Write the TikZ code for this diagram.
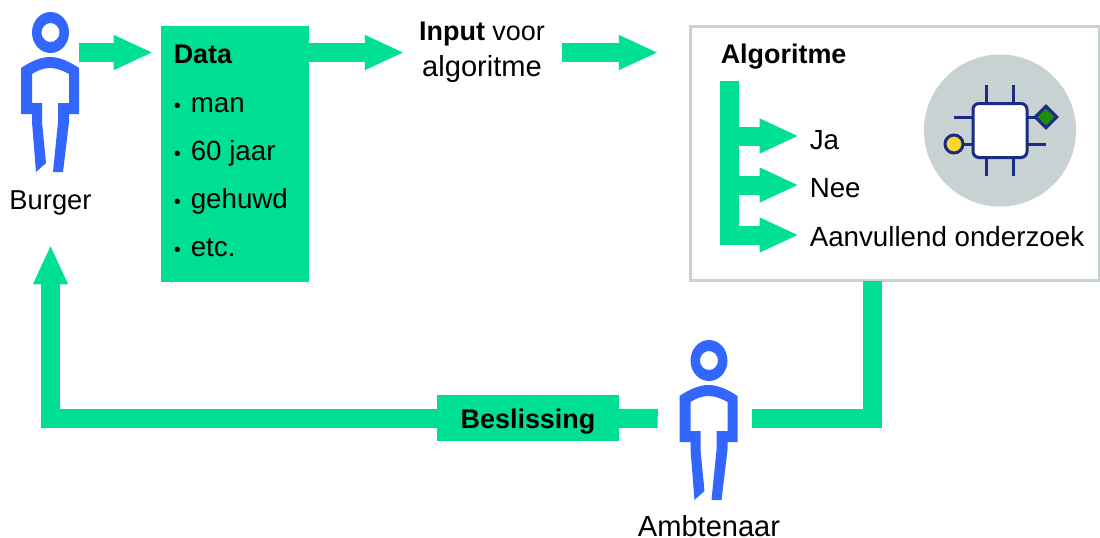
\documentclass[tikz,border=0pt]{standalone}
\usepackage{fontspec}
\setmainfont{Liberation Sans}
\usetikzlibrary{arrows.meta,backgrounds,positioning,shapes.geometric}
\definecolor{flowgreen}{HTML}{00E092}
\definecolor{personblue}{HTML}{3366FF}
\definecolor{panelgrey}{HTML}{C9D2D2}
\definecolor{chipnavy}{HTML}{1A2B84}
\definecolor{pinyellow}{HTML}{F9D62E}
\definecolor{pingreen}{HTML}{1F8F0A}
\newcommand{\regsize}{\fontsize{20.8pt}{27pt}\selectfont}
\newcommand{\bigsize}{\fontsize{21.8pt}{27pt}\selectfont}
\newcommand{\itembul}{{\fontsize{15pt}{15pt}\selectfont •}\hspace{7.5pt}}
\begin{document}
\begin{tikzpicture}
	[x=0.75pt, y=-0.75pt, inner sep=0pt, font=\fontsize{20.2pt}{27pt}\selectfont,
	flowline/.style	= {draw=flowgreen, line width=14.25pt},
	flow/.style		= {flowline, -{Triangle[length=28.5pt,width=26.5pt,line width=0pt]}},
	databox/.style	= {rectangle, fill=flowgreen, minimum width=111pt, minimum height=192pt},
	algobox/.style	= {rectangle, draw=panelgrey, line width=2.25pt, fill=white, minimum width=307pt, minimum height=191pt},
	figbox/.style	= {rectangle, draw=none, minimum width=43.5pt, minimum height=120pt},
	decisionbox/.style = {rectangle, fill=flowgreen, minimum width=136.5pt, minimum height=34.5pt, text height=15pt, text depth=0pt},
	lbl/.style		= {anchor=west, text height=19.5pt, text depth=0pt},
	lblmid/.style	= {text height=19.5pt, text depth=0pt},
	chippin/.style	= {draw=chipnavy, line width=2.25pt},
	person/.pic		= {
		\fill [personblue, even odd rule] (50.5,32.5) ellipse (18.5 and 20.5) (50.5,32.5) ellipse (9 and 9.5);
		\fill [personblue, even odd rule] (21,68) .. controls (30,62) and (40,57) .. (50,57) .. controls (60,57) and (70,62) .. (79,68)
			-- (79,114) -- (69,114) -- (69,122) -- (63,172) -- (53,172) -- (58,122) -- (58,103) -- (69,103) -- (69,74)
			.. controls (62,70) and (56,68) .. (50,68) .. controls (44,68) and (38,70) .. (32,74)
			-- (32,103) -- (42,103) -- (42,122) -- (46,163) -- (36,172) -- (32,122) -- (32,114) -- (21,114) -- cycle;
	}]

	\useasboundingbox (0,0) rectangle (1100,537);

	% people
	\node at (50,92)		[figbox]	(burgerfig)	{};
	\node at (709,418.5)	[figbox]	(ambtfig)	{};
	\pic at (0,0)		{person};
	\pic at (658.5,328)	{person};
	\node at (50.5,196)	[lblmid, font=\fontsize{20.5pt}{27pt}\selectfont]	(burger)	{Burger};
	\node at (709,523)	[lblmid, font=\bigsize]	(ambt)		{Ambtenaar};

	% data
	\node at (235,154)	[databox]	(data)	{};
	\node at (173.5,50)	[lbl]		(datatitle)	{\textbf{Data}};
	\node at (173.5,99)	[lbl, font=\regsize]	(item1)	{\itembul man};
	\node at (173.5,147)	[lbl, font=\regsize]	(item2)	{\itembul 60 jaar};
	\node at (173.5,195)	[lbl, font=\regsize]	(item3)	{\itembul gehuwd};
	\node at (173.5,243)	[lbl, font=\regsize]	(item4)	{\itembul etc.};

	\node at (482,52.5)	[align=center]	(input)	{\textbf{Input} voor\\{\bigsize algoritme}};

	% algorithm panel
	\node at (895,153.5)	[algobox]	(algo)	{};
	\node at (720.5,50)	[lbl]		(algotitle)	{\textbf{Algoritme}};
	\node at (809.5,136)	[lbl, font=\regsize]	(ja)	{Ja};
	\node at (809.5,184)	[lbl, font=\regsize]	(nee)	{Nee};
	\node at (809.5,233)	[lbl, font=\regsize]	(extra)	{Aanvullend onderzoek};

	\coordinate (spinetop) at (729.5,81);
	\coordinate (spinebot) at (729.5,245);
	\coordinate (algoout) at (872.5,281);
	\draw [flowline] (spinetop) -- (spinebot);
	\draw [flow, shorten >=9pt] (spinetop |- ja.west) -- (ja.west);
	\draw [flow, shorten >=9pt] (spinetop |- 0,185) -- (ja.west |- 0,185);
	\draw [flow, shorten >=9pt] (spinetop |- 0,235) -- (ja.west |- 0,235);

	% chip
	\node at (1000,130.5) [circle, fill=panelgrey, minimum size=114pt] (chipdisc) {};
	\draw [chippin] (986,85) -- (986,176);
	\draw [chippin] (1013,85) -- (1013,176);
	\draw [chippin] (954,117) -- (1046,117);
	\draw [chippin] (954,144) -- (1046,144);
	\node at (1000,130.5) [chippin, fill=white, rectangle, rounded corners=4.5pt, minimum size=40.5pt] (chip) {};
	\node at (954,144) [chippin, fill=pinyellow, circle, minimum size=13.5pt] (pin1) {};
	\node at (1046,117) [chippin, fill=pingreen, diamond, minimum size=17pt] (pin2) {};

	% flows
	\draw [flow, shorten >=6.75pt] (burgerfig.east |- input.west) -- (data.west |- input.west);
	\draw [flow] (data.east |- input.west) -- ([xshift=-12pt]input.west);
	\draw [flow, shorten <=12.75pt, shorten >=24pt] (input.east) -- (algo.west |- input.east);

	\node at (528,418)	[decisionbox]	(beslis)	{\textbf{Beslissing}};
	\draw [flowline, shorten <=10.5pt] (ambtfig.east) -| (algoout);
	\begin{scope}[on background layer]
		\draw [flowline, shorten <=16.5pt] (ambtfig.west) -- (beslis.center);
		\draw [flow, shorten >=27.75pt] (beslis.center) -| (burger.south);
	\end{scope}
\end{tikzpicture}
\end{document}
